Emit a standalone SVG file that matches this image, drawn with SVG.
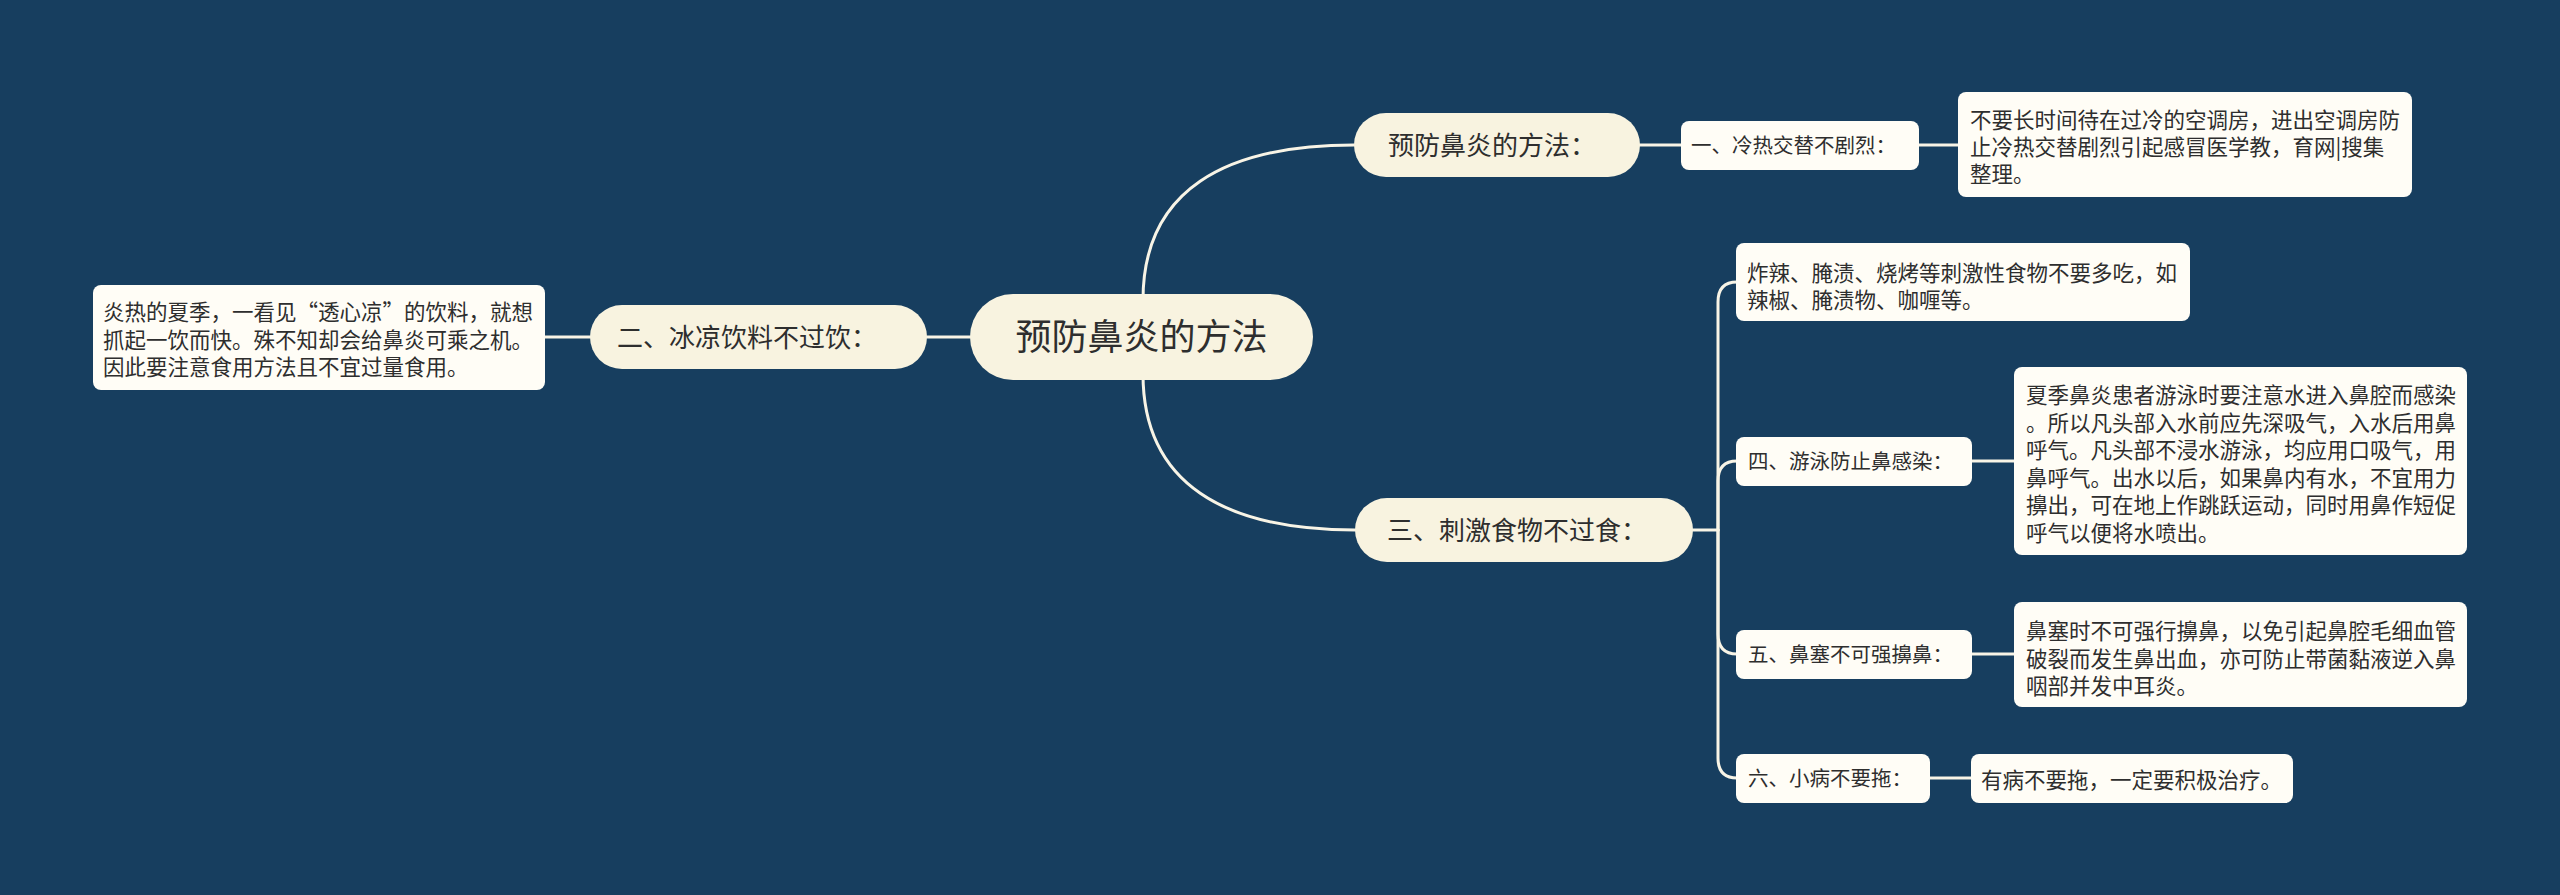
<svg xmlns="http://www.w3.org/2000/svg" width="2560" height="895" viewBox="0 0 2560 895">
<style>
.bg{fill:#173e5f}
.c{fill:none;stroke:#f8f4e6;stroke-width:3;stroke-linecap:round}
.root rect{fill:#f8f3e0}
.l1 rect{fill:#f8f3e0}
.l2 rect,.leaf rect{fill:#fffdf6}
text{font-family:"Noto Sans CJK SC","Noto Sans",sans-serif;fill:#2e2e2e}
.t36{font-size:36px}
.t26{font-size:26px}
.t20{font-size:20.5px}
.t21{font-size:21.5px}
</style>
<rect class="bg" x="0" y="0" width="2560" height="895"/>
<g id="connectors">
<path class="c" d="M970,337 L927,337"/>
<path class="c" d="M590,337 L545,337"/>
<path class="c" d="M1143,300 C1143,190 1225,145 1354,145"/>
<path class="c" d="M1143,374 C1143,484 1225,530 1355,530"/>
<path class="c" d="M1640,145 L1681,145"/>
<path class="c" d="M1919,145 L1958,145"/>
<path class="c" d="M1693,530 L1718,530"/>
<path class="c" d="M1718,530 V302 Q1718,282 1737,282"/>
<path class="c" d="M1718,530 V481 Q1718,461 1737,461"/>
<path class="c" d="M1718,530 V634 Q1718,654 1737,654"/>
<path class="c" d="M1718,530 V758 Q1718,778 1737,778"/>
<path class="c" d="M1972,461 L2015,461"/>
<path class="c" d="M1972,654 L2015,654"/>
<path class="c" d="M1930,778 L1971,778"/>
</g>
<g id="root" class="root">
<rect x="970" y="294" width="343" height="86" rx="43"/>
<text class="t36" x="1141.5" y="350" text-anchor="middle">预防鼻炎的方法</text>
</g>
<g id="n-prevent" class="l1">
<rect x="1354" y="113" width="286" height="64" rx="32"/>
<text class="t26" x="1388" y="155">预防鼻炎的方法：</text>
</g>
<g id="n-two" class="l1">
<rect x="590" y="305" width="337" height="64" rx="32"/>
<text class="t26" x="617" y="347">二、冰凉饮料不过饮：</text>
</g>
<g id="n-three" class="l1">
<rect x="1355" y="498" width="338" height="64" rx="32"/>
<text class="t26" x="1387" y="540">三、刺激食物不过食：</text>
</g>
<g id="n-one" class="l2">
<rect x="1681" y="121" width="238" height="49" rx="8"/>
<text class="t20" x="1691" y="153">一、冷热交替不剧烈：</text>
</g>
<g id="n-one-text" class="leaf">
<rect x="1958" y="92" width="454" height="105" rx="8"/>
<text class="t21" x="1970" y="128">不要长时间待在过冷的空调房，进出空调房防</text>
<text class="t21" x="1970" y="155">止冷热交替剧烈引起感冒医学教，育网|搜集</text>
<text class="t21" x="1970" y="182">整理。</text>
</g>
<g id="n-two-text" class="leaf">
<rect x="93" y="285" width="452" height="105" rx="8"/>
<text class="t21" x="103" y="320">炎热的夏季，一看见“透心凉”的饮料，就想</text>
<text class="t21" x="103" y="347.5">抓起一饮而快。殊不知却会给鼻炎可乘之机。</text>
<text class="t21" x="103" y="375">因此要注意食用方法且不宜过量食用。</text>
</g>
<g id="n-spicy" class="leaf">
<rect x="1736" y="243" width="454" height="78" rx="8"/>
<text class="t21" x="1747" y="281">炸辣、腌渍、烧烤等刺激性食物不要多吃，如</text>
<text class="t21" x="1747" y="307.5">辣椒、腌渍物、咖喱等。</text>
</g>
<g id="n-four" class="l2">
<rect x="1736" y="437" width="236" height="49" rx="8"/>
<text class="t20" x="1748" y="469">四、游泳防止鼻感染：</text>
</g>
<g id="n-four-text" class="leaf">
<rect x="2014" y="367" width="453" height="188" rx="8"/>
<text class="t21" x="2026" y="403">夏季鼻炎患者游泳时要注意水进入鼻腔而感染</text>
<text class="t21" x="2026" y="430.6">。所以凡头部入水前应先深吸气，入水后用鼻</text>
<text class="t21" x="2026" y="458.2">呼气。凡头部不浸水游泳，均应用口吸气，用</text>
<text class="t21" x="2026" y="485.8">鼻呼气。出水以后，如果鼻内有水，不宜用力</text>
<text class="t21" x="2026" y="513.4">擤出，可在地上作跳跃运动，同时用鼻作短促</text>
<text class="t21" x="2026" y="541">呼气以便将水喷出。</text>
</g>
<g id="n-five" class="l2">
<rect x="1736" y="630" width="236" height="49" rx="8"/>
<text class="t20" x="1748" y="662">五、鼻塞不可强擤鼻：</text>
</g>
<g id="n-five-text" class="leaf">
<rect x="2014" y="602" width="453" height="105" rx="8"/>
<text class="t21" x="2026" y="639">鼻塞时不可强行擤鼻，以免引起鼻腔毛细血管</text>
<text class="t21" x="2026" y="666.5">破裂而发生鼻出血，亦可防止带菌黏液逆入鼻</text>
<text class="t21" x="2026" y="694">咽部并发中耳炎。</text>
</g>
<g id="n-six" class="l2">
<rect x="1736" y="754" width="194" height="49" rx="8"/>
<text class="t20" x="1748" y="786">六、小病不要拖：</text>
</g>
<g id="n-six-text" class="leaf">
<rect x="1971" y="754" width="322" height="49" rx="8"/>
<text class="t21" x="1981" y="788">有病不要拖，一定要积极治疗。</text>
</g>
</svg>
